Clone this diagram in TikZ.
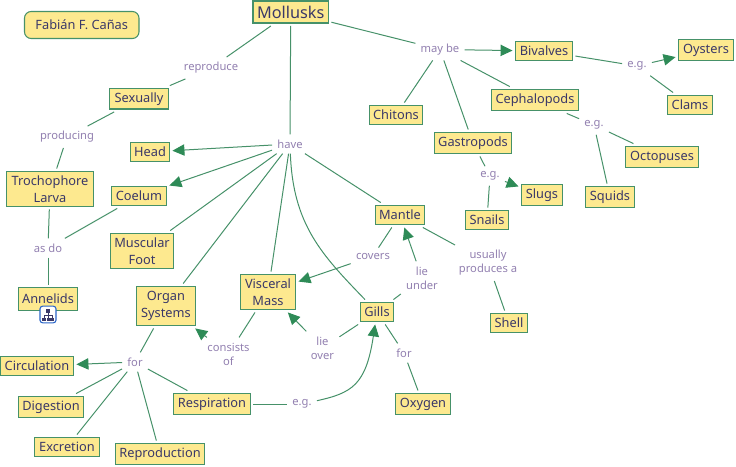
\documentclass[tikz,border=0pt]{standalone}
\usepackage{fontspec}
\setmainfont{Noto Sans}
\usetikzlibrary{arrows.meta}
\definecolor{cfill}{RGB}{253,233,143}
\definecolor{cline}{RGB}{70,145,105}
\definecolor{ctext}{RGB}{58,56,104}
\definecolor{ltext}{RGB}{146,128,176}
\definecolor{arrowc}{RGB}{46,139,87}
\definecolor{iconb}{RGB}{40,100,200}
\tikzset{
  concept/.style={draw=cline,fill=cfill,line width=0.8pt,inner sep=0pt,outer sep=2.2pt,text=ctext,align=center,
    font=\fontsize{9.6}{12.8}\selectfont},
  lab/.style={inner sep=0pt,outer sep=4pt,text=ltext,align=center,font=\fontsize{8.4}{10.6}\selectfont},
  conn/.style={draw=cline,line width=0.75pt},
  arr/.style={conn,-{Triangle[length=9pt,width=8.5pt,color=arrowc]}},
  iconbox/.style={draw=iconb,fill=white,line width=0.8pt,rounded corners=2pt,inner sep=0pt,minimum width=12pt,minimum height=12.5pt},
  iconpart/.style={fill=ctext,draw=none}
}
\newcommand{\cn}[7][]{\node[concept,minimum width={(#4-#2)*0.75},minimum height={(#5-#3)*0.75},#1] (#6) at ({(#2+#4)/2},{(#3+#5)/2}) {#7};}
\begin{document}
\begin{tikzpicture}[x=0.75pt,y=-0.75pt]
\useasboundingbox (0,0) rectangle (736,467);
\cn[font=\fontsize{12.2}{15}\selectfont]{253}{1}{328.5}{23}{mollusks}{Mollusks}
\cn[rounded corners=5pt]{24.5}{11.5}{139}{38.5}{author}{Fabián F. Cañas}
\cn{109.5}{88.5}{168.5}{109}{sexually}{Sexually}
\cn{130.5}{142.5}{169.5}{161.5}{head}{Head}
\cn{6.5}{171.5}{93.5}{206.5}{larva}{Trochophore\\Larva}
\cn{111.5}{186.5}{166.5}{205.5}{coelum}{Coelum}
\cn{110.5}{233.5}{173.5}{268.5}{foot}{Muscular\\Foot}
\cn{18.5}{287.5}{77.5}{310.5}{annelids}{Annelids}
\cn{136.5}{286.5}{195.5}{325.5}{organ}{Organ\\Systems}
\cn{240.5}{274.5}{295.5}{309.5}{visceral}{Visceral\\Mass}
\cn{0.5}{356.5}{73.5}{375.5}{circ}{Circulation}
\cn{18.5}{396.5}{83.5}{417.5}{digest}{Digestion}
\cn{34.5}{437.5}{99.5}{456.5}{excr}{Excretion}
\cn{115.5}{443.5}{204.5}{464.5}{repro}{Reproduction}
\cn{173.5}{393.5}{250.5}{414.5}{resp}{Respiration}
\cn{360.5}{302.5}{393.5}{321.5}{gills}{Gills}
\cn{375.5}{205.5}{424.5}{224.5}{mantle}{Mantle}
\cn{490.5}{313.5}{527.5}{332.5}{shell}{Shell}
\cn{395.5}{393.5}{450.5}{414.5}{oxygen}{Oxygen}
\cn{369.5}{105.5}{422.5}{124.5}{chitons}{Chitons}
\cn{515.5}{41.5}{572.5}{60.5}{bivalves}{Bivalves}
\cn{678.5}{39.5}{733.5}{60.5}{oysters}{Oysters}
\cn{667.5}{95.5}{712.5}{114.5}{clams}{Clams}
\cn{491.5}{89.5}{578.5}{110.5}{ceph}{Cephalopods}
\cn{434.5}{132.5}{511.5}{153.5}{gastro}{Gastropods}
\cn{625.5}{146.5}{698.5}{167.5}{octo}{Octopuses}
\cn{521.5}{184.5}{562.5}{205.5}{slugs}{Slugs}
\cn{585.5}{186.5}{634.5}{207.5}{squids}{Squids}
\cn{465.5}{210.5}{508.5}{229.5}{snails}{Snails}

\node[lab] (lrepro) at (211,68) {reproduce};
\node[lab] (lprod) at (67,137) {producing};
\node[lab] (lhave) at (290,144) {have};
\node[lab] (lmay) at (440,49.5) {may be};
\node[lab] (leg1) at (637,66) {e.g.};
\node[lab] (leg2) at (594,125) {e.g.};
\node[lab] (leg3) at (490,176) {e.g.};
\node[lab] (lasdo) at (48,248) {as do};
\node[lab] (lcons) at (228.5,354) {consists\\of};
\node[lab] (lover) at (322.5,348) {lie\\over};
\node[lab] (lfor1) at (135,362) {for};
\node[lab] (leg4) at (302,404) {e.g.};
\node[lab] (lcov) at (373,256) {covers};
\node[lab] (lunder) at (422,278) {lie\\under};
\node[lab] (lusu) at (488,263) {usually\\produces a};
\node[lab] (lfor2) at (404,353) {for};

\draw[conn] (mollusks) -- (lrepro);
\draw[conn] (lrepro) -- (sexually);
\draw[conn] (sexually) -- (lprod);
\draw[conn] (lprod) -- (larva);
\draw[conn] (larva) -- (lasdo);
\draw[conn] (coelum) -- (lasdo);
\draw[conn] (lasdo) -- (annelids);
\draw[conn] (mollusks) -- (lhave);
\draw[arr] (lhave) -- (head);
\draw[arr] (lhave) -- (coelum);
\draw[conn] (lhave) -- (foot);
\draw[conn] (lhave) -- (organ);
\draw[conn] (lhave) -- (visceral);
\draw[conn] (lhave) -- (mantle);
\draw[conn] (lhave) .. controls (293,225) and (322,255) .. (gills);
\draw[conn] (mollusks) -- (lmay);
\draw[arr] (lmay) -- (bivalves);
\draw[conn] (lmay) -- (chitons);
\draw[conn] (lmay) -- (gastro);
\draw[conn] (lmay) -- (ceph);
\draw[conn] (bivalves) -- (leg1);
\draw[arr] (leg1) -- (oysters);
\draw[conn] (leg1) -- (clams);
\draw[conn] (ceph) -- (leg2);
\draw[conn] (leg2) -- (octo);
\draw[conn] (leg2) -- (squids);
\draw[conn] (gastro) -- (leg3);
\draw[arr] (leg3) -- (slugs);
\draw[conn] (leg3) -- (snails);
\draw[conn] (mantle) -- (lcov);
\draw[arr] (lcov) -- (visceral);
\draw[conn] (mantle) -- (lusu);
\draw[conn] (lusu) -- (shell);
\draw[conn] (gills) -- (lunder);
\draw[arr] (lunder) -- (mantle);
\draw[conn] (gills) -- (lover);
\draw[arr] (lover) -- (visceral);
\draw[conn] (gills) -- (lfor2);
\draw[conn] (lfor2) -- (oxygen);
\draw[conn] (visceral) -- (lcons);
\draw[arr] (lcons) -- (organ);
\draw[conn] (organ) -- (lfor1);
\draw[arr] (lfor1) -- (circ);
\draw[conn] (lfor1) -- (digest);
\draw[conn] (lfor1) -- (excr);
\draw[conn] (lfor1) -- (repro);
\draw[conn] (lfor1) -- (resp);
\draw[conn] (resp) -- (leg4);
\draw[arr] (leg4) .. controls (352,393) and (366,385) .. (gills);

\node[iconbox] (icon) at (48,314.5) {};
\fill[iconpart] (46,308.5) rectangle (50,312.5);
\draw[ctext,line width=0.6pt] (48,312.5) -- (48,318) (44,318) -- (44,315) -- (52,315) -- (52,318);
\fill[iconpart] (42,317.5) rectangle (46,321);
\fill[iconpart] (46.5,317.5) rectangle (49.5,321);
\fill[iconpart] (50,317.5) rectangle (54,321);
\end{tikzpicture}
\end{document}
